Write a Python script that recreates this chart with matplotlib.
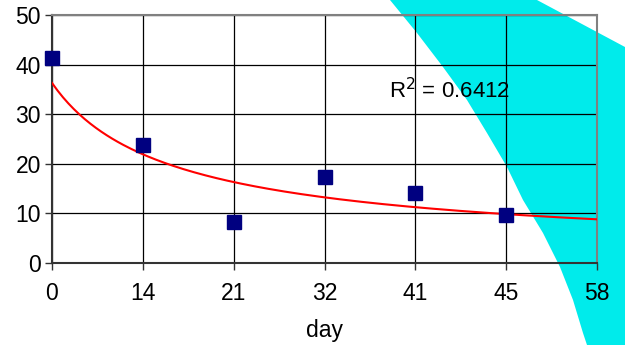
import numpy as np
import matplotlib
matplotlib.use('Agg')
from matplotlib import pyplot as plt
from matplotlib.patches import Polygon

plt.rcParams['font.family'] = ['Liberation Sans', 'DejaVu Sans']

days = ['0', '14', '21', '32', '41', '45', '58']
values = [41.4, 23.8, 8.2, 17.3, 14.2, 9.6]   # no reading on day 58
r2_label = 'R$^2$ = 0.6412'

fig = plt.figure(figsize=(6.25, 3.45), dpi=100)

# cyan decoration behind the chart (figure pixel coords, from the top)
shape_px = [(390, 0), (417, 33), (443, 67), (467, 100), (487, 133), (507, 167),
            (523, 200), (543, 233), (560, 267), (573, 300), (583, 333), (587, 345),
            (625, 345), (625, 47), (537, 0)]
shape = Polygon([(x / 625, 1 - y / 345) for x, y in shape_px], closed=True,
                transform=fig.transFigure, facecolor='#00ebeb', edgecolor='none', zorder=-1)
fig.patches.append(shape)

ax = fig.add_axes([52 / 625, 1 - 263 / 345, 545 / 625, 248 / 345])
ax.set_zorder(1)
ax.set_facecolor('none')

# category positions, like an Excel line chart
pos = np.arange(len(days))
ax.plot(pos[:len(values)], values, linestyle='none', marker='s', markersize=10,
        color='#000080', zorder=4, clip_on=False)

# power trendline fitted on category index 1..n
xi = np.arange(1, len(values) + 1)
slope, icpt = np.polyfit(np.log(xi), np.log(values), 1)
xs = np.linspace(1, len(days), 200)
ax.plot(xs - 1, np.exp(icpt) * xs ** slope, color='red', linewidth=1.5, zorder=3)

ax.text(389 / 625, 1 - 91 / 345, r2_label, transform=fig.transFigure,
        fontsize=16, va='center', ha='left')

ax.set_xlim(0, len(days) - 1)
ax.set_ylim(0, 50)
ax.set_xticks(pos)
ax.set_xticklabels(days)
ax.set_yticks(range(0, 51, 10))
ax.grid(True, color='black', linewidth=0.9)
ax.set_axisbelow(True)
ax.tick_params(labelsize=16.5, length=5, width=1, color='#333333', pad=9)
ax.tick_params(axis='y', pad=3)
ax.set_xlabel('day', fontsize=16.5, labelpad=10)

for side in ['top', 'right']:
    ax.spines[side].set_color('#808080')
    ax.spines[side].set_linewidth(1.5)
for side in ['left', 'bottom']:
    ax.spines[side].set_color('#333333')
    ax.spines[side].set_linewidth(1.5)

plt.savefig('out.png', dpi=100)
